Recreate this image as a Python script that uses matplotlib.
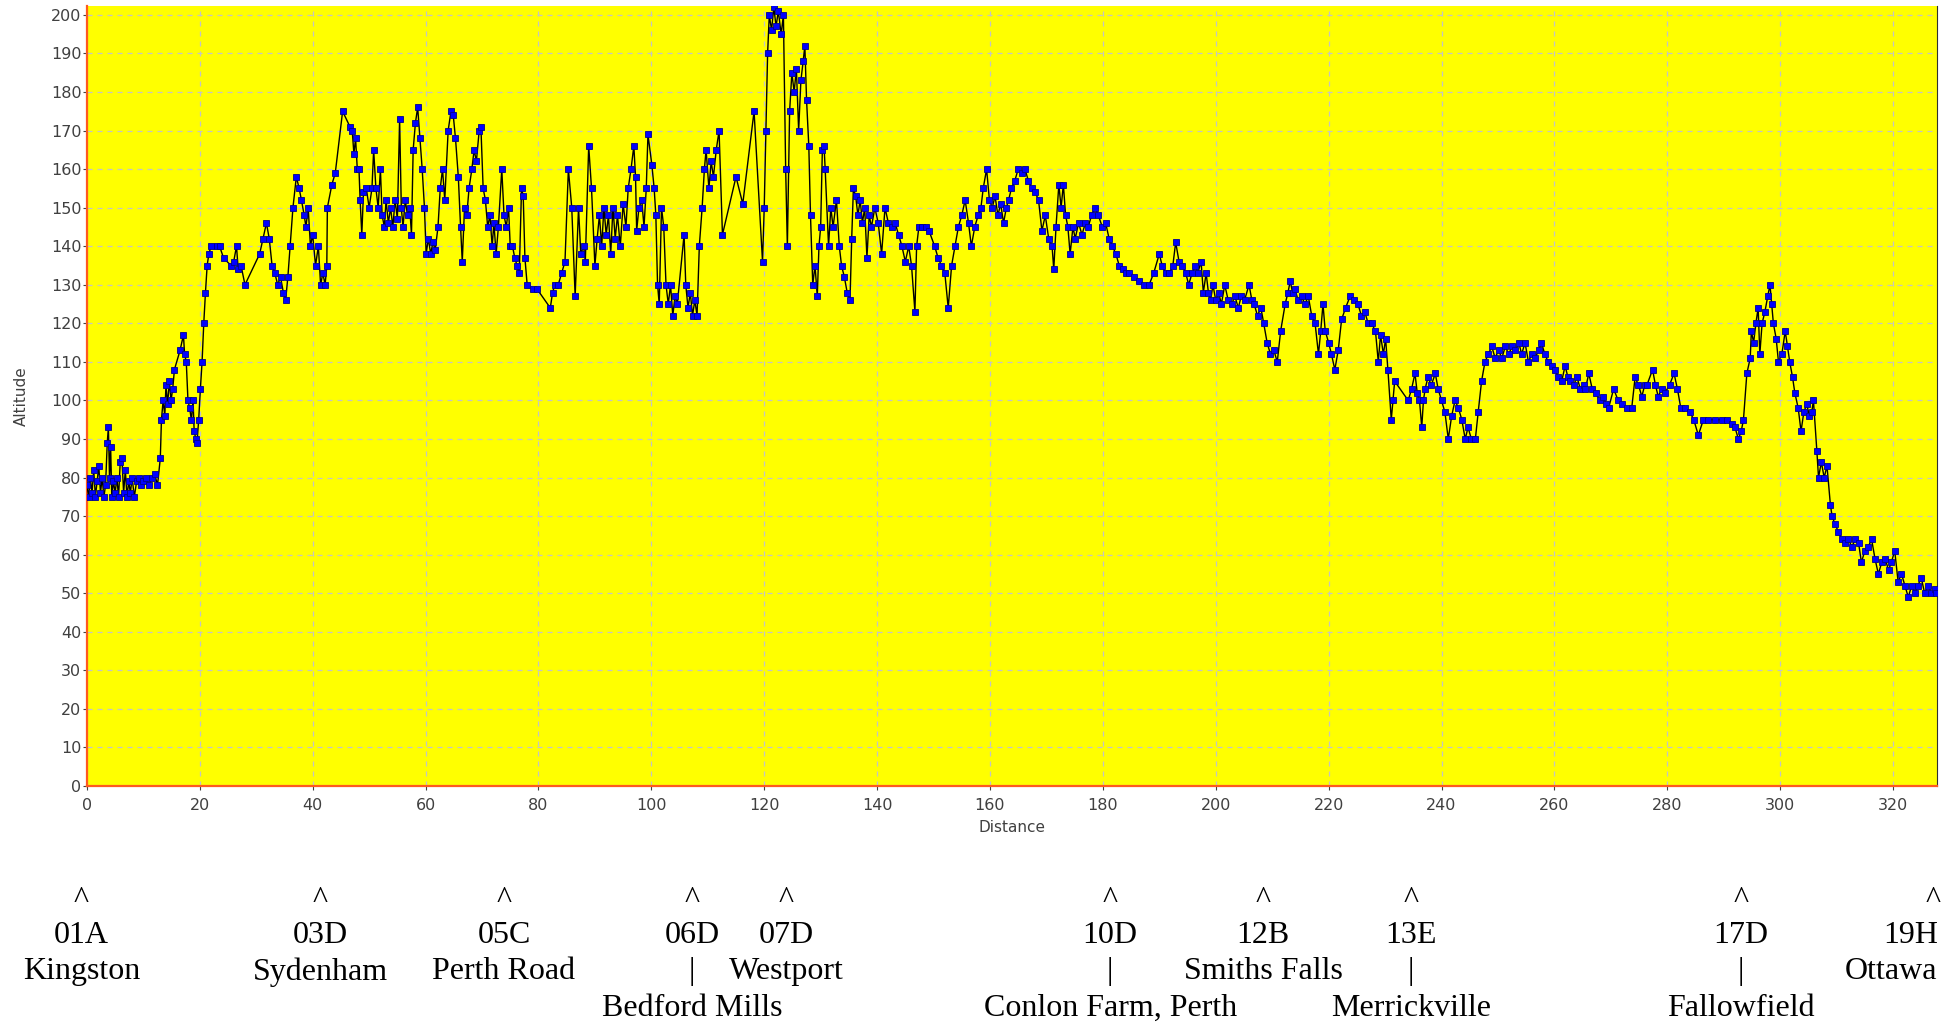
import matplotlib
matplotlib.use("Agg")
import matplotlib.pyplot as plt
from matplotlib.transforms import blended_transform_factory

# altitude profile (km, m)
distance_km = [
    0, 0.3, 0.6, 0.9, 1.2, 1.5, 1.8, 2.1, 2.4, 2.7, 3.0, 3.3,
    3.6, 3.8, 4.0, 4.2, 4.4, 4.7, 5.0, 5.3, 5.6, 5.9, 6.2, 6.5,
    6.8, 7.1, 7.4, 7.7, 8.0, 8.4, 8.8, 9.2, 9.6, 10.0, 10.5, 11.0,
    11.5, 12.0, 12.5, 13.0, 13.2, 13.5, 13.8, 14.0, 14.3, 14.6, 14.9, 15.2,
    15.5, 16.5, 17.1, 17.3, 17.6, 17.9, 18.2, 18.5, 18.8, 19.0, 19.3, 19.5,
    19.8, 20.1, 20.4, 20.7, 21.0, 21.3, 21.6, 22.0, 23.0, 23.5, 24.2, 25.5,
    26.0, 26.5, 26.8, 27.3, 28.0, 30.6, 31.2, 31.8, 32.3, 32.8, 33.3, 33.8,
    34.3, 34.8, 35.2, 35.6, 36.0, 36.5, 37.1, 37.6, 38.0, 38.5, 38.8, 39.2,
    39.6, 40.0, 40.5, 41.0, 41.4, 41.8, 42.2, 42.5, 42.6, 43.4, 44.0, 45.3,
    46.6, 47.0, 47.3, 47.6, 47.9, 48.2, 48.4, 48.7, 49.0, 49.5, 50.0, 50.5,
    50.8, 51.2, 51.6, 52.0, 52.3, 52.7, 53.0, 53.4, 53.8, 54.2, 54.6, 55.0,
    55.4, 55.7, 56.0, 56.4, 56.8, 57.2, 57.5, 57.8, 58.2, 58.6, 59.0, 59.4,
    59.8, 60.1, 60.5, 60.9, 61.3, 61.7, 62.2, 62.6, 63.0, 63.4, 64.0, 64.5,
    64.9, 65.3, 65.8, 66.2, 66.5, 66.9, 67.3, 67.7, 68.2, 68.6, 69.0, 69.5,
    69.8, 70.2, 70.6, 71.0, 71.4, 71.8, 72.1, 72.5, 72.9, 73.5, 73.9, 74.3,
    74.7, 75.0, 75.4, 75.8, 76.2, 76.6, 77.0, 77.3, 77.6, 78.0, 79.0, 79.7,
    82.1, 82.5, 82.9, 83.5, 84.1, 84.7, 85.3, 85.9, 86.5, 87.1, 87.5, 88.0,
    88.3, 88.9, 89.4, 90.0, 90.4, 90.8, 91.2, 91.6, 92.0, 92.4, 92.8, 93.2,
    93.6, 94.0, 94.5, 95.0, 95.5, 95.9, 96.4, 96.9, 97.2, 97.4, 97.8, 98.3,
    98.7, 99.1, 99.4, 100.1, 100.5, 100.8, 101.1, 101.4, 101.8, 102.2, 102.6, 103.0,
    103.4, 103.8, 104.2, 104.6, 105.8, 106.1, 106.5, 106.9, 107.3, 107.7, 108.1, 108.5,
    109.0, 109.4, 109.7, 110.2, 110.6, 111.0, 111.5, 112.0, 112.6, 115.0, 116.2, 118.2,
    119.7, 120.0, 120.3, 120.6, 120.9, 121.3, 121.7, 122.1, 122.5, 123.0, 123.4, 123.8,
    124.1, 124.5, 124.9, 125.3, 125.7, 126.1, 126.5, 126.9, 127.2, 127.5, 127.9, 128.2,
    128.6, 129.0, 129.4, 129.7, 130.0, 130.3, 130.6, 130.8, 131.4, 131.8, 132.2, 132.8,
    133.3, 133.7, 134.2, 134.7, 135.2, 135.5, 135.8, 136.2, 136.6, 137.0, 137.4, 137.8,
    138.2, 138.6, 139.0, 139.6, 140.2, 140.8, 141.4, 142.0, 142.6, 143.2, 143.8, 144.4,
    145.0, 145.6, 146.1, 146.7, 147.0, 147.4, 148.0, 148.6, 149.2, 150.2, 150.8, 151.4,
    152.0, 152.6, 153.2, 153.8, 154.4, 155.0, 155.6, 156.2, 156.7, 157.3, 157.9, 158.4,
    158.8, 159.4, 159.9, 160.4, 160.9, 161.4, 161.9, 162.4, 162.9, 163.3, 163.8, 164.4,
    165.0, 165.6, 166.2, 166.8, 167.4, 168.0, 168.6, 169.2, 169.8, 170.4, 171.0, 171.3,
    171.7, 172.2, 172.6, 173.0, 173.4, 173.8, 174.2, 174.7, 175.1, 175.7, 176.3, 176.9,
    177.4, 178.0, 178.6, 179.2, 179.9, 180.5, 181.1, 181.7, 182.3, 182.9, 183.5, 184.1,
    184.6, 185.5, 186.4, 187.3, 188.2, 189.0, 190.0, 190.5, 191.1, 191.8, 192.4, 192.9,
    193.5, 194.1, 194.7, 195.2, 195.8, 196.4, 196.8, 197.4, 197.8, 198.3, 198.7, 199.1,
    199.5, 200.0, 200.5, 201.0, 201.6, 202.2, 202.8, 203.4, 204.0, 204.5, 205.1, 205.9,
    206.4, 206.8, 207.4, 208.0, 208.5, 209.1, 209.7, 210.3, 210.9, 211.5, 212.3, 212.8,
    213.2, 213.6, 214.0, 214.6, 215.2, 215.8, 216.4, 217.0, 217.6, 218.2, 218.6, 219.0,
    219.4, 220.0, 220.5, 221.1, 221.7, 222.3, 223.0, 223.8, 224.5, 225.2, 225.8, 226.4,
    227.0, 227.6, 228.3, 228.8, 229.2, 229.7, 230.1, 230.5, 231.1, 231.4, 231.7, 234.1,
    234.7, 235.3, 235.7, 236.1, 236.5, 236.8, 237.1, 237.6, 238.2, 238.9, 239.4, 240.0,
    240.6, 241.2, 241.8, 242.4, 243.0, 243.6, 244.2, 244.7, 245.3, 246.0, 246.5, 247.1,
    247.7, 248.3, 248.9, 249.5, 250.1, 250.7, 251.3, 251.9, 252.5, 253.1, 253.7, 254.2,
    254.8, 255.4, 256.0, 256.6, 257.2, 257.7, 258.3, 258.9, 259.5, 260.1, 260.7, 261.3,
    261.9, 262.4, 262.8, 263.4, 264.0, 264.6, 265.2, 265.5, 266.1, 266.7, 267.3, 268.0,
    268.6, 269.2, 269.6, 270.5, 271.3, 271.9, 272.8, 273.7, 274.3, 274.9, 275.5, 276.0,
    276.4, 277.4, 277.9, 278.4, 279.0, 279.6, 280.4, 281.2, 281.8, 282.4, 283.2, 284.0,
    284.7, 285.5, 286.4, 287.3, 288.5, 289.7, 290.6, 291.4, 292.0, 292.6, 293.1, 293.5,
    294.1, 294.7, 294.9, 295.3, 295.7, 296.1, 296.4, 296.8, 297.3, 297.8, 298.2, 298.5,
    298.8, 299.3, 299.7, 300.3, 300.9, 301.3, 301.7, 302.2, 302.6, 303.2, 303.7, 304.2,
    304.7, 305.2, 305.6, 305.9, 306.5, 306.8, 307.3, 307.8, 308.3, 308.9, 309.2, 309.7,
    310.3, 310.9, 311.5, 312.1, 312.7, 313.3, 313.9, 314.4, 315.0, 315.6, 316.2, 316.8,
    317.4, 318.0, 318.6, 319.2, 319.7, 320.3, 320.9, 321.5, 322.1, 322.7, 323.3, 323.9,
    324.4, 325.0, 325.6, 326.2, 326.8, 327.4, 327.7,
]
altitude_m = [
    78, 75, 80, 76, 82, 75, 79, 83, 76, 80, 75, 78,
    89, 93, 80, 88, 75, 79, 76, 80, 75, 84, 85, 76,
    82, 75, 79, 76, 80, 75, 79, 80, 78, 79, 80, 78,
    80, 81, 78, 85, 95, 100, 96, 104, 99, 105, 100, 103,
    108, 113, 117, 112, 110, 100, 98, 95, 100, 92, 90, 89,
    95, 103, 110, 120, 128, 135, 138, 140, 140, 140, 137, 135,
    136, 140, 134, 135, 130, 138, 142, 146, 142, 135, 133, 130,
    132, 128, 126, 132, 140, 150, 158, 155, 152, 148, 145, 150,
    140, 143, 135, 140, 130, 133, 130, 135, 150, 156, 159, 175,
    171, 170, 164, 168, 160, 160, 152, 143, 154, 155, 150, 155,
    165, 155, 150, 160, 148, 145, 152, 146, 150, 145, 152, 147,
    173, 150, 145, 152, 148, 150, 143, 165, 172, 176, 168, 160,
    150, 138, 142, 138, 141, 139, 145, 155, 160, 152, 170, 175,
    174, 168, 158, 145, 136, 150, 148, 155, 160, 165, 162, 170,
    171, 155, 152, 145, 148, 140, 146, 138, 145, 160, 148, 145,
    150, 140, 140, 137, 135, 133, 155, 153, 137, 130, 129, 129,
    124, 128, 130, 130, 133, 136, 160, 150, 127, 150, 138, 140,
    136, 166, 155, 135, 142, 148, 140, 150, 143, 148, 138, 150,
    142, 148, 140, 151, 145, 155, 160, 166, 158, 144, 150, 152,
    145, 155, 169, 161, 155, 148, 130, 125, 150, 145, 130, 125,
    130, 122, 127, 125, 143, 130, 124, 128, 122, 126, 122, 140,
    150, 160, 165, 155, 162, 158, 165, 170, 143, 158, 151, 175,
    136, 150, 170, 190, 200, 196, 202, 197, 201, 195, 200, 160,
    140, 175, 185, 180, 186, 170, 183, 188, 192, 178, 166, 148,
    130, 135, 127, 140, 145, 165, 166, 160, 140, 150, 145, 152,
    140, 135, 132, 128, 126, 142, 155, 153, 148, 152, 146, 150,
    137, 148, 145, 150, 146, 138, 150, 146, 145, 146, 143, 140,
    136, 140, 135, 123, 140, 145, 145, 145, 144, 140, 137, 135,
    133, 124, 135, 140, 145, 148, 152, 146, 140, 145, 148, 150,
    155, 160, 152, 150, 153, 148, 151, 146, 150, 152, 155, 157,
    160, 159, 160, 157, 155, 154, 152, 144, 148, 142, 140, 134,
    145, 156, 150, 156, 148, 145, 138, 145, 142, 146, 143, 146,
    145, 148, 150, 148, 145, 146, 142, 140, 138, 135, 134, 133,
    133, 132, 131, 130, 130, 133, 138, 135, 133, 133, 135, 141,
    136, 135, 133, 130, 133, 135, 133, 136, 128, 133, 128, 126,
    130, 126, 128, 125, 130, 126, 125, 127, 124, 127, 126, 130,
    126, 125, 122, 124, 120, 115, 112, 113, 110, 118, 125, 128,
    131, 128, 129, 126, 127, 125, 127, 122, 120, 112, 118, 125,
    118, 115, 112, 108, 113, 121, 124, 127, 126, 125, 122, 123,
    120, 120, 118, 110, 117, 112, 116, 108, 95, 100, 105, 100,
    103, 107, 102, 100, 93, 100, 103, 106, 104, 107, 103, 100,
    97, 90, 96, 100, 98, 95, 90, 93, 90, 90, 97, 105,
    110, 112, 114, 111, 113, 111, 114, 112, 114, 113, 115, 112,
    115, 110, 112, 111, 113, 115, 112, 110, 109, 108, 106, 105,
    109, 106, 105, 104, 106, 103, 104, 103, 107, 103, 102, 100,
    101, 99, 98, 103, 100, 99, 98, 98, 106, 104, 101, 104,
    104, 108, 104, 101, 103, 102, 104, 107, 103, 98, 98, 97,
    95, 91, 95, 95, 95, 95, 95, 94, 93, 90, 92, 95,
    107, 111, 118, 115, 120, 124, 112, 120, 123, 127, 130, 125,
    120, 116, 110, 112, 118, 114, 110, 106, 102, 98, 92, 97,
    99, 96, 97, 100, 87, 80, 84, 80, 83, 73, 70, 68,
    66, 64, 63, 64, 62, 64, 63, 58, 61, 62, 64, 59,
    55, 58, 59, 56, 58, 61, 53, 55, 52, 49, 52, 50,
    52, 54, 50, 52, 50, 51, 50,
]

# checkpoints printed under the chart
stage_codes = ["01A", "03D", "05C", "06D", "07D", "10D", "12B", "13E", "17D", "19H"]
stage_names = ["Kingston", "Sydenham", "Perth Road", "Bedford Mills", "Westport",
               "Conlon Farm, Perth", "Smiths Falls", "Merrickville", "Fallowfield", "Ottawa"]
stage_km = [-1.0, 41.3, 73.9, 107.2, 123.9, 181.3, 208.4, 234.6, 293.1, 327.1]
name_low = [False, False, False, True, False, True, False, True, True, False]

fig = plt.figure(figsize=(19.58, 10.24), dpi=100, facecolor="white")
ax = fig.add_axes([0.0444, 0.2324, 0.9449, 0.7617])
ax.set_facecolor("#ffff00")

ax.plot(distance_km, altitude_m, color="black", lw=1.0,
        marker="s", markersize=4.6, markerfacecolor="#0000ff",
        markeredgecolor="#00008c", markeredgewidth=0.6, zorder=3)

ax.set_xlim(0, 327.8)
ax.set_ylim(0, 202.3)
ax.set_xticks(range(0, 321, 20))
ax.set_yticks(range(0, 201, 10))
ax.grid(True, color="#c4c4c4", lw=0.9, linestyle=(0, (4, 4)), zorder=1)

for side in ["left", "bottom"]:
    ax.spines[side].set_color("#ff5a1e")
    ax.spines[side].set_linewidth(1.6)
ax.spines["right"].set_color("#303030")
ax.spines["right"].set_linewidth(0.8)
ax.spines["top"].set_visible(False)

ax.tick_params(axis="both", length=3, width=0.8, color="#404040",
               labelcolor="#404040", labelsize=11.5)
ax.tick_params(axis="x", pad=5.5)
ax.tick_params(axis="y", pad=1)
ax.set_xlabel("Distance", fontsize=11, color="#404040", labelpad=5)
ax.set_ylabel("Altitude", fontsize=11, color="#404040", labelpad=16)

serif = "Liberation Serif"
fs = 23
trans = blended_transform_factory(ax.transData, fig.transFigure)
last = len(stage_codes) - 1
for i, (code, name, km, low) in enumerate(zip(stage_codes, stage_names, stage_km, name_low)):
    fig.text(km, 0.121, "^", transform=trans, ha="center", va="center",
             family=serif, fontsize=fs)
    if i == last:
        fig.text(0.9898, 0.086, code, ha="right", va="center", family=serif, fontsize=fs)
        fig.text(0.9893, 0.051, name, ha="right", va="center", family=serif, fontsize=fs)
        continue
    fig.text(km, 0.086, code, transform=trans, ha="center", va="center",
             family=serif, fontsize=fs)
    if low:
        fig.text(km, 0.051, "|", transform=trans, ha="center", va="center",
                 family=serif, fontsize=fs)
        fig.text(km, 0.015, name, transform=trans, ha="center", va="center",
                 family=serif, fontsize=fs)
    else:
        fig.text(km, 0.051, name, transform=trans, ha="center", va="center",
                 family=serif, fontsize=fs)

fig.savefig("out.png", dpi=100, facecolor="white")
